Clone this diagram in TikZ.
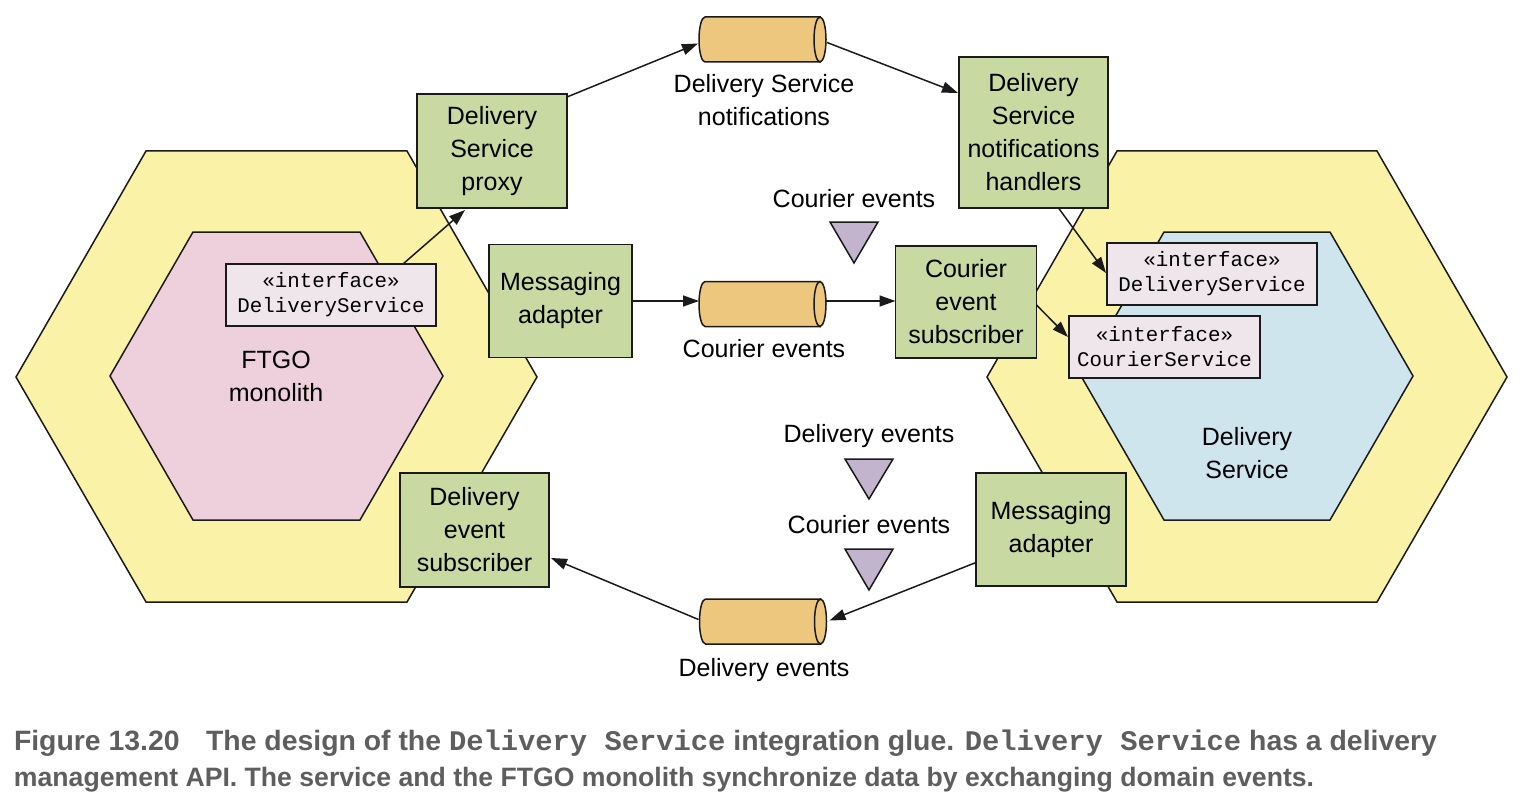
\documentclass[tikz,border=0pt]{standalone}
\usepackage{fontspec}
\setmainfont{Liberation Sans}
\setmonofont{Liberation Mono}
\newfontfamily\capmono{Liberation Mono}
\usetikzlibrary{arrows.meta,calc}
\definecolor{hexyellow}{HTML}{F9F2A7}
\definecolor{hexpink}{HTML}{EDD0DB}
\definecolor{hexblue}{HTML}{CFE5EE}
\definecolor{boxgreen}{HTML}{C8D9A1}
\definecolor{ifacefill}{HTML}{EEE6EB}
\definecolor{cylfill}{HTML}{EEC77F}
\definecolor{trifill}{HTML}{C2B4CD}
\definecolor{linecol}{HTML}{1A1A1A}
\definecolor{captiongray}{HTML}{5E5E5E}
\newcommand\drawcyl[1]{%
  \path[cylbody] ($(#1.north east)+(-6,0)$) -- ($(#1.north west)+(6,0)$)
     arc[start angle=90,end angle=270,x radius=3pt,y radius=11.25pt]
     -- ($(#1.south east)+(-6,0)$) -- cycle;
  \path[cylbody] ($(#1.east)+(-6,0)$) ellipse [x radius=3pt,y radius=11.25pt];
}
\begin{document}
\begin{tikzpicture}[x=0.5pt,y=-0.5pt,
  every node/.style={inner sep=0pt,outer sep=0pt},
  lbl/.style={font=\fontsize{12.5pt}{16.5pt}\selectfont, align=center},
  gbox/.style={lbl, draw=linecol, line width=0.75pt, fill=boxgreen},
  ibox/.style={draw=linecol, line width=0.75pt, fill=ifacefill,
    font=\fontsize{10.4pt}{12.5pt}\ttfamily, align=center, minimum height=31pt},
  hexo/.style={draw=linecol, line width=0.75pt, fill=hexyellow},
  hexp/.style={draw=linecol, line width=0.75pt, fill=hexpink},
  hexb/.style={draw=linecol, line width=0.75pt, fill=hexblue},
  cylnode/.style={rectangle, minimum width=63.5pt, minimum height=22.5pt},
  cylbody/.style={draw=linecol, line width=0.75pt, fill=cylfill},
  tri/.style={draw=linecol, line width=0.75pt, fill=trifill},
  arr/.style={draw=linecol, line width=0.75pt, -{Triangle[length=8pt,width=5.5pt]}},
  captxt/.style={anchor=base west, text=captiongray, font=\fontsize{13.3pt}{16pt}\selectfont\bfseries}
]
\useasboundingbox (0,0) rectangle (1526,808);

% hexagons
\draw[hexo] (16,377) -- (146,151) -- (407,151) -- (537,377) -- (407,602) -- (146,602) -- cycle;
\draw[hexp] (110,376) -- (193,232) -- (360,232) -- (443,376) -- (360,520) -- (193,520) -- cycle;
\draw[hexo] (987,377) -- (1117,151) -- (1377,151) -- (1507,377) -- (1377,602) -- (1117,602) -- cycle;
\draw[hexb] (1081,376) -- (1164,232) -- (1330,232) -- (1413,376) -- (1330,520) -- (1164,520) -- cycle;

\node[lbl] (ftgo) at (276,376) {FTGO\\monolith};
\node[lbl] (dsvc) at (1247,453) {Delivery\\Service};

% green boxes
\node[gbox, minimum width=75pt, minimum height=57pt] (proxy) at (492,151) {Delivery\\Service\\proxy};
\node[gbox, minimum width=71.5pt, minimum height=56.5pt] (msgL) at (560.5,301) {Messaging\\adapter};
\node[gbox, minimum width=74.5pt, minimum height=75.5pt] (handlers) at (1033.5,132.5) {Delivery\\Service\\notifications\\handlers};
\node[gbox, minimum width=70.5pt, minimum height=56pt] (csub) at (966,302) {Courier\\event\\subscriber};
\node[gbox, minimum width=74.5pt, minimum height=57pt] (dsub) at (474.5,530) {Delivery\\event\\subscriber};
\node[gbox, minimum width=75pt, minimum height=56.5pt] (msgR) at (1051,529.5) {Messaging\\adapter};

% interface boxes
\node[ibox, minimum width=105pt] (ifL) at (331,295) {«interface»\\DeliveryService};
\node[ibox, minimum width=105pt] (ifDS) at (1212,274) {«interface»\\DeliveryService};
\node[ibox, minimum width=95.5pt] (ifCS) at (1164.5,347) {«interface»\\CourierService};

% cylinders
\node[cylnode] (cylN) at (762.5,39.5) {};
\node[cylnode] (cylC) at (762.5,304) {};
\node[cylnode] (cylD) at (763,621.5) {};
\drawcyl{cylN}
\drawcyl{cylC}
\drawcyl{cylD}

% labels
\node[lbl] (lblN) at (764,100) {Delivery Service\\notifications};
\node[lbl, anchor=base] (lblC) at (764,357) {Courier events};
\node[lbl, anchor=base] (lblD) at (764,676) {Delivery events};
\node[lbl, anchor=base] (lblT1) at (854,207) {Courier events};
\node[lbl, anchor=base] (lblT2) at (869,442) {Delivery events};
\node[lbl, anchor=base] (lblT3) at (869,533) {Courier events};

% triangles
\draw[tri] (830,222) -- (878,222) -- (854,263) -- cycle;
\draw[tri] (845,459) -- (893,459) -- (869,499) -- cycle;
\draw[tri] (845,549) -- (893,549) -- (869,590) -- cycle;

% connectors
\draw[arr] ($(ifL.north)+(72,0)$) -- ($(proxy.south)+(-27,2)$);
\draw[arr] ($(proxy.north east)+(0,3)$) -- ($(cylN.west)+(-1,4)$);
\draw[arr] ($(cylN.east)+(1,3)$) -- ($(handlers.north west)+(-1,36)$);
\draw[arr] ($(handlers.south)+(25,0)$) -- ($(ifDS.west)+(-1,-1)$);
\draw[arr] (msgL.east) -- (msgL.east -| cylC.west);
\draw[arr] (cylC.east |- msgL.east) -- (msgL.east -| csub.west);
\draw[arr] ($(csub.east)+(0,3)$) -- ($(ifCS.west)+(-1,-10)$);
\draw[arr] ($(msgR.west)+(0,33)$) -- ($(cylD.east)+(3,-1)$);
\draw[arr] ($(cylD.west)+(-1,-2)$) -- ($(dsub.east)+(2,28)$);

% caption
\node[captxt] (cap1) at (14,750) {\resizebox{711.5pt}{\height}{\fontsize{14pt}{16pt}\selectfont Figure 13.20\hspace{13pt}The design of the {\capmono\fontsize{14.2pt}{16pt}\selectfont Delivery Service} integration glue. {\capmono\fontsize{14.2pt}{16pt}\selectfont Delivery Service} has a delivery}};
\node[captxt] (cap2) at (14,786) {\resizebox{650pt}{\height}{management API. The service and the FTGO monolith synchronize data by exchanging domain events.}};
\end{tikzpicture}
\end{document}
